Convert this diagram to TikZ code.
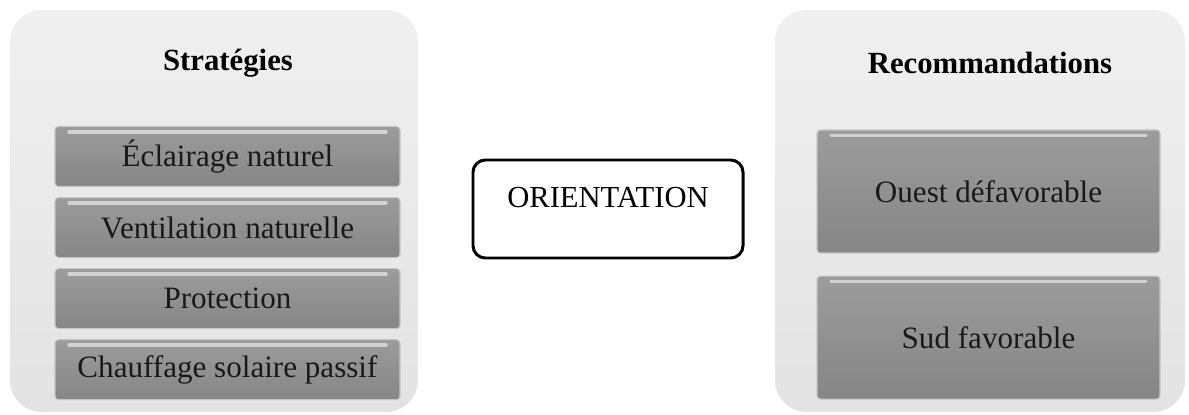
\documentclass[tikz,border=0pt]{standalone}
\usepackage{fontspec}
\setmainfont{Liberation Serif}
\usetikzlibrary{positioning}
\tikzset{
  panneau/.style={rounded corners=18pt, top color=gray!12, bottom color=gray!22, draw=none},
  titre/.style={font=\fontsize{17.5}{20}\selectfont\bfseries},
  case/.style={rounded corners=2pt, top color=gray!78, bottom color=gray!95, draw=gray!45, line width=0.6pt,
    minimum width=6.9cm, minimum height=1.2cm, inner sep=0pt, text=black!90, font=\fontsize{17.7}{20}\selectfont,
    path picture={\draw[white!65!gray, line width=2pt, line cap=round]
      ([xshift=8pt,yshift=-3pt]path picture bounding box.north west) --
      ([xshift=-8pt,yshift=-3pt]path picture bounding box.north east);}},
  grandecase/.style={case, minimum width=6.86cm, minimum height=2.46cm}
}
\begin{document}
\begin{tikzpicture}
    \useasboundingbox (0,0) rectangle (23.78,8.28);
    % strategies
    \node[panneau, minimum width=8.16cm, minimum height=8.04cm] (strat) at (4.28,4.06) {};
    \node[titre] (titreStrat) at (4.56,7.02) {Stratégies};
    \node[case] (eclairage) at (4.55,5.15) {Éclairage naturel};
    \node[case, below=0.2cm of eclairage] (ventilation) {Ventilation naturelle};
    \node[case, below=0.2cm of ventilation] (protection) {Protection};
    \node[case, below=0.2cm of protection] (chauffage) {Chauffage solaire passif};
    % orientation
    \node[draw, line width=1.7pt, rounded corners=7pt, minimum width=5.4cm, minimum height=1.96cm,
      text height=0.45cm, text depth=0.49cm, font=\fontsize{17.4}{20}\selectfont] (orient) at (12.16,4.1) {ORIENTATION};
    % recommandations
    \node[panneau, minimum width=8.2cm, minimum height=8.04cm] (recom) at (19.6,4.06) {};
    \node[titre] (titreRecom) at (19.8,7.02) {Recommandations};
    \node[grandecase] (ouest) at (19.77,4.45) {Ouest défavorable};
    \node[grandecase, below=0.44cm of ouest] (sud) {Sud favorable};
\end{tikzpicture}
\end{document}
